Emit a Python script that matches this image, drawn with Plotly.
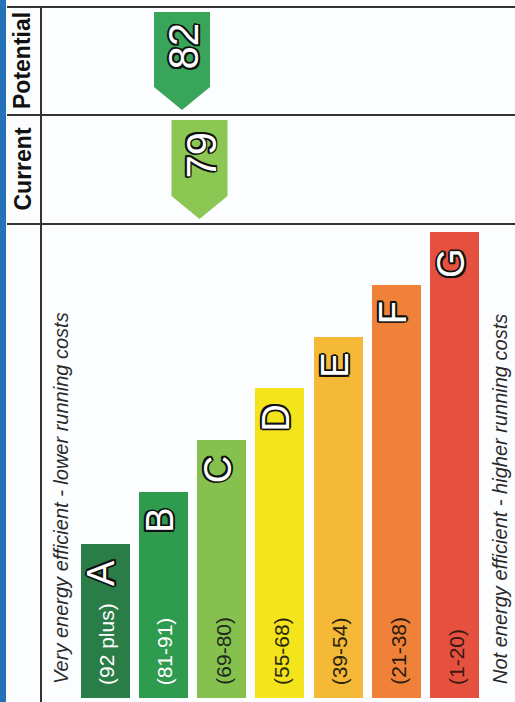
import plotly.graph_objects as go

# ---------------- data ----------------
bands = ["A", "B", "C", "D", "E", "F", "G"]
band_ranges = ["(92 plus)", "(81-91)", "(69-80)", "(55-68)", "(39-54)", "(21-38)", "(1-20)"]
bar_lengths = [154, 206, 258, 310, 361, 413, 466]

rating_names = ["Potential", "Current"]
rating_scores = [82, 79]

top_text = "Very energy efficient - lower running costs"
bottom_text = "Not energy efficient - higher running costs"

# ---------------- styles ----------------
bar_colors = ["#2b7d47", "#2f9b4f", "#86c14f", "#f4e41c", "#f4b936", "#ef8238", "#e6503f"]
range_colors = ["#ffffff", "#ffffff", "#1e2a1e", "#2a2a10", "#2a2210", "#2a1a10", "#3a1812"]
score_colors = ["#38a55a", "#8cc653"]

W, H = 515, 702
BASE_PX = 698            # pixel row of bar base
FONT = "Liberation Sans, Arial, sans-serif"
OFFS = [(-1.5, -1.5), (1.5, -1.5), (-1.5, 1.5), (1.5, 1.5),
        (0, 1.7), (0, -1.7), (1.7, 0), (-1.7, 0)]

def py(p):
    return BASE_PX - p

row_bounds = {"Potential": (7, 115), "Current": (115, 224)}

fig = go.Figure()

def outlined(text, size, xs=0, ys=0, **kw):
    for dx, dy in OFFS:
        fig.add_annotation(text=text, textangle=-90, showarrow=False,
                           xshift=xs + dx, yshift=ys + dy,
                           font=dict(family=FONT, size=size, color="#111"), **kw)
    fig.add_annotation(text=text, textangle=-90, showarrow=False,
                       xshift=xs, yshift=ys,
                       font=dict(family=FONT, size=size, color="white"), **kw)

fig.add_trace(go.Bar(
    x=bands, y=bar_lengths, width=0.84,
    marker=dict(color=bar_colors, line=dict(width=0)),
    hoverinfo="skip", showlegend=False,
))

# score axis: 5.833 px per point, 82 at pixel 182
PX_PER_SCORE = 58.33 / 10
s_left = 82 + 182 / PX_PER_SCORE
s_right = 82 - (W - 182) / PX_PER_SCORE
HALF = 28 / PX_PER_SCORE

for name, score, col in zip(rating_names, rating_scores, score_colors):
    r0, r1 = row_bounds[name]
    top = py(r0 + 5)
    tip = py(r1 - 5)
    rb = tip + 23
    fig.add_trace(go.Scatter(
        x=[score - HALF, score + HALF, score + HALF, score, score - HALF, score - HALF],
        y=[top, top, rb, tip, rb, top],
        xaxis="x2", mode="lines", fill="toself", fillcolor=col,
        line=dict(width=0, color=col), hoverinfo="skip", showlegend=False,
    ))
    outlined(str(score), 42, xs=1,
             x=score, xref="x2", y=(top + rb) / 2 + 3, yref="y",
             xanchor="center", yanchor="middle")
    fig.add_annotation(
        x=22 / W, xref="paper", y=py((r0 + r1) / 2), yref="y",
        text=f"<b>{name}</b>", textangle=-90, showarrow=False,
        xanchor="center", yanchor="middle",
        font=dict(family=FONT, size=23, color="#111"),
    )

for b, rng, L, rc in zip(bands, band_ranges, bar_lengths, range_colors):
    outlined(b, 38, xs=-4, ys=-14,
             x=b, xref="x", y=L, yref="y", xanchor="center", yanchor="top")
    fig.add_annotation(
        x=b, xref="x", y=0, yref="y", text=rng, textangle=-90, showarrow=False,
        xanchor="center", yanchor="bottom", yshift=11, xshift=1,
        font=dict(family=FONT, size=21, color=rc),
    )

for txt, xp in [(top_text, 61), (bottom_text, 500)]:
    fig.add_annotation(
        x=xp / W, xref="paper", y=py(686), yref="y", text=f"<i>{txt}</i>",
        textangle=-90, showarrow=False, xanchor="center", yanchor="bottom",
        font=dict(family=FONT, size=20, color="#2a2a2a"),
    )

shapes = [
    dict(type="rect", xref="paper", yref="paper", x0=0, x1=6 / W, y0=0, y1=1,
         fillcolor="#2473b8", line=dict(width=0), layer="above"),
    dict(type="line", xref="paper", yref="paper", x0=41 / W, x1=41 / W,
         y0=0, y1=1 - 7 / H, line=dict(color="#333", width=2)),
]
for yp in (7, 115, 224):
    shapes.append(dict(type="line", xref="paper", yref="paper", x0=7 / W, x1=1,
                       y0=1 - yp / H, y1=1 - yp / H, line=dict(color="#333", width=2)))

fig.update_layout(
    width=W, height=H, margin=dict(l=0, r=0, t=0, b=0),
    paper_bgcolor="#fcfdfe", plot_bgcolor="#fcfdfe",
    xaxis=dict(type="category", categoryorder="array", categoryarray=bands,
               range=[-105 / 58.33, (W - 105) / 58.33], visible=False, fixedrange=True),
    xaxis2=dict(overlaying="x", range=[s_left, s_right], visible=False, fixedrange=True),
    yaxis=dict(range=[-(H - BASE_PX), BASE_PX], visible=False, fixedrange=True),
    shapes=shapes, bargap=0, showlegend=False,
)

fig.write_html("out.html")
